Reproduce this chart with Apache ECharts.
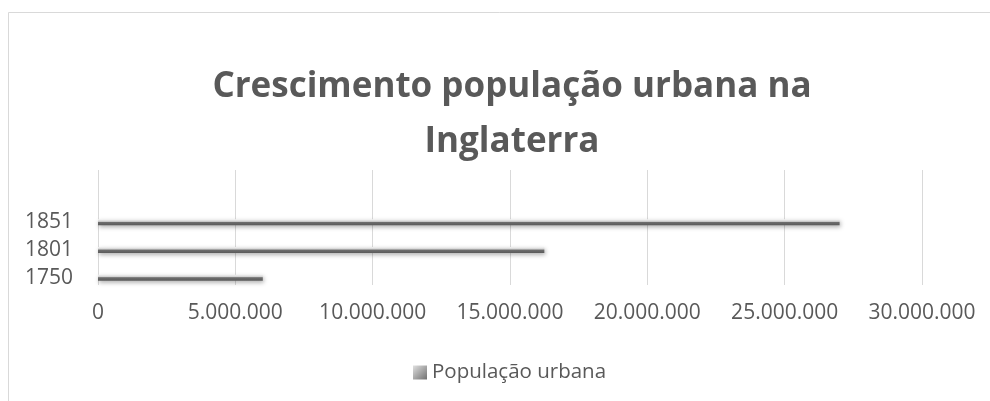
<!DOCTYPE html>
<html>
<head>
<meta charset="utf-8">
<script src="https://cdn.jsdelivr.net/npm/echarts@6/dist/echarts.min.js"></script>
<style>
  html, body { margin: 0; padding: 0; background: #fff; }
  #chart { width: 990px; height: 401px; }
</style>
</head>
<body>
<div id="chart"></div>
<script>
var anos = ['1750', '1801', '1851'];
var populacao = [6000000, 16250000, 27000000];
var nomeSerie = 'População urbana';

var cinza = '#595959';
var fonte = '"Open Sans", sans-serif';

function milhar(v) {
    return String(v).replace(/\B(?=(\d{3})+(?!\d))/g, '.');
}

var barra = new echarts.graphic.LinearGradient(0, 0, 0, 1, [
    {offset: 0, color: '#f4f4f4'},
    {offset: 0.35, color: '#d0d0d0'},
    {offset: 0.5, color: '#6e6e6e'},
    {offset: 1, color: '#5a5a5a'}
]);

var myChart = echarts.init(document.getElementById('chart'));
myChart.setOption({
    backgroundColor: '#fff',
    animation: false,
    title: {
        text: 'Crescimento população urbana na\nInglaterra',
        left: 507,
        textAlign: 'center',
        top: 55,
        textStyle: {
            fontFamily: fonte,
            fontWeight: 'bold',
            fontSize: 35,
            lineHeight: 55,
            color: cinza
        }
    },
    graphic: [{
        type: 'rect',
        shape: {x: 8.5, y: 12.5, width: 1200, height: 600},
        style: {fill: 'none', stroke: '#d9d9d9', lineWidth: 1},
        silent: true
    }],
    legend: {
        data: [{name: nomeSerie, itemStyle: {color: new echarts.graphic.LinearGradient(0, 0, 1, 1, [
            {offset: 0, color: '#e0e0e0'}, {offset: 1, color: '#707070'}])}}],
        left: 408,
        top: 357,
        icon: 'rect',
        itemWidth: 14,
        itemHeight: 14,
        itemGap: 6,
        textStyle: {fontFamily: fonte, fontSize: 20.5, color: cinza}
    },
    grid: [
        {left: 98, right: 68, top: 170, bottom: 116},
        {left: 98, right: 68, top: 208.5, bottom: 109.5}
    ],
    xAxis: [{
        gridIndex: 0,
        type: 'value',
        min: 0,
        max: 30000000,
        interval: 5000000,
        axisLine: {show: false},
        axisTick: {show: false},
        splitLine: {lineStyle: {color: '#d9d9d9', width: 1}},
        axisLabel: {
            margin: 18,
            fontFamily: fonte,
            fontSize: 21,
            color: cinza,
            formatter: milhar
        }
    }, {
        gridIndex: 1,
        type: 'value',
        min: 0,
        max: 30000000,
        interval: 5000000,
        show: false
    }],
    yAxis: [{
        gridIndex: 0,
        type: 'category',
        data: anos,
        show: false
    }, {
        gridIndex: 1,
        type: 'category',
        data: anos,
        axisLine: {show: false},
        axisTick: {show: false},
        axisLabel: {
            margin: 25,
            padding: [0, 0, 14, 0],
            fontFamily: fonte,
            fontSize: 21,
            color: cinza
        }
    }],
    series: [{
        name: nomeSerie,
        type: 'bar',
        xAxisIndex: 1,
        yAxisIndex: 1,
        data: populacao,
        barWidth: 6,
        itemStyle: {
            color: barra,
            shadowColor: 'rgba(0,0,0,0.3)',
            shadowBlur: 4,
            shadowOffsetY: 2,
            shadowOffsetX: 1
        }
    }]
});
</script>
</body>
</html>
